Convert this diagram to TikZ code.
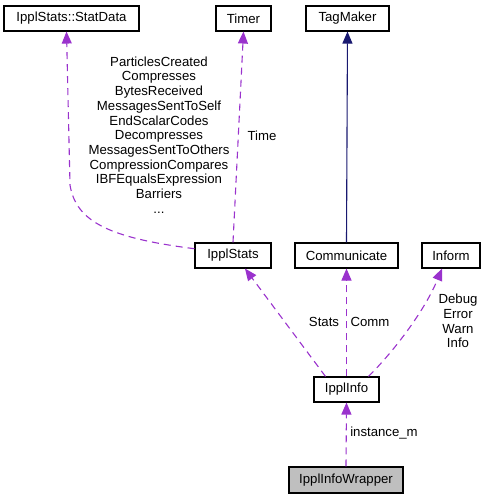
\documentclass[tikz,border=0pt]{standalone}
\usepackage{fontspec}
\setmainfont{Liberation Sans}
\usetikzlibrary{arrows.meta}
\definecolor{dep}{HTML}{9A32CD}
\definecolor{inh}{HTML}{191970}
\begin{document}
\begin{tikzpicture}[x=1pt,y=-1pt,
  every node/.style={font=\fontsize{13.2}{14.7}\selectfont},
  cls/.style={draw=black,line width=1.1pt,inner sep=0pt,minimum height=25pt},
  deparrow/.style={dep,line width=1.1pt,dash pattern=on 7pt off 5pt,-{Triangle[length=12pt,width=10pt]}},
  inharrow/.style={inh,line width=1.1pt,-{Triangle[length=12pt,width=10pt]}},
  lbl/.style={align=center,inner sep=0pt,text=black}]
\useasboundingbox (0,0) rectangle (487,499);
\node[cls,minimum width=135pt] (statdata) at (71.5,18.5) {IpplStats::StatData};
\node[cls,minimum width=55pt] (timer) at (243.5,18.5) {Timer};
\node[cls,minimum width=83pt] (tagmaker) at (347.5,18.5) {TagMaker};
\node[cls,minimum width=76pt] (stats) at (233,255.5) {IpplStats};
\node[cls,minimum width=103pt] (comm) at (346.5,255.5) {Communicate};
\node[cls,minimum width=58pt] (inform) at (451,255.5) {Inform};
\node[cls,minimum width=65pt] (info) at (346.5,389.5) {IpplInfo};
\node[cls,minimum width=114pt,minimum height=26pt,fill={rgb,255:red,191;green,191;blue,191}] (wrapper) at (346,480) {IpplInfoWrapper};
% edges
\draw[deparrow] (stats.170) .. controls (110,238) and (76,222) .. (70,185) -- ([xshift=-5pt]statdata.south);
\draw[deparrow] (stats.north) -- (timer.south);
\draw[inharrow] (comm.north) -- (tagmaker.south);
\draw[deparrow] ([xshift=-21pt]info.north) -- ([xshift=12pt]stats.south);
\draw[deparrow] (info.north) -- (comm.south);
\draw[deparrow] ([xshift=22pt]info.north) .. controls (395,350) and (425,310) .. ([xshift=-9pt]inform.south);
\draw[deparrow] (wrapper.north) -- (info.south);
% labels
\node[lbl] (l1) at (159,135) {ParticlesCreated\\Compresses\\BytesReceived\\MessagesSentToSelf\\EndScalarCodes\\Decompresses\\MessagesSentToOthers\\CompressionCompares\\IBFEqualsExpression\\Barriers\\...};
\node[lbl] (l2) at (262,136) {Time};
\node[lbl] (l3) at (324,322) {Stats};
\node[lbl] (l4) at (370,322) {Comm};
\node[lbl] (l5) at (458,321) {Debug\\Error\\Warn\\Info};
\node[lbl] (l6) at (384,433) {instance\_m};
\end{tikzpicture}
\end{document}
